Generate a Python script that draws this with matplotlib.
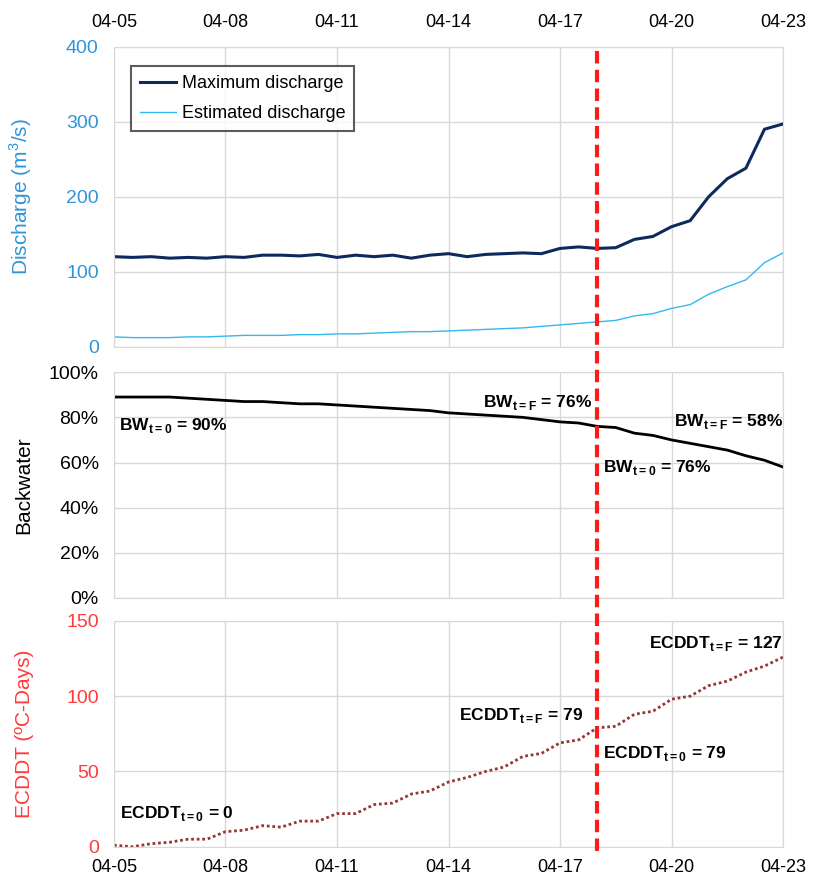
import numpy as np
import pandas as pd
import matplotlib
matplotlib.use('Agg')
import matplotlib.pyplot as plt
import matplotlib.dates as mdates
from matplotlib.lines import Line2D
from matplotlib.transforms import blended_transform_factory

plt.rcParams['font.family'] = ['Liberation Sans', 'DejaVu Sans']
plt.rcParams['mathtext.fontset'] = 'custom'
plt.rcParams['mathtext.rm'] = 'Liberation Sans'
plt.rcParams['mathtext.bf'] = 'Liberation Sans:bold'

# half-daily readings, 04-05 .. 04-23
dates = pd.date_range('2019-04-05', '2019-04-23', freq='12h')

max_discharge = [120, 119, 120, 118, 119, 118, 120, 119, 122, 122, 121, 123, 119,
                 122, 120, 122, 118, 122, 124, 120, 123, 124, 125, 124, 131, 133,
                 131, 132, 143, 147, 160, 168, 200, 224, 238, 290, 297]
est_discharge = [13, 12, 12, 12, 13, 13, 14, 15, 15, 15, 16, 16, 17, 17, 18, 19,
                 20, 20, 21, 22, 23, 24, 25, 27, 29, 31, 33, 35, 41, 44, 51, 56,
                 70, 80, 89, 112, 125]
backwater = [89, 89, 89, 89, 88.5, 88, 87.5, 87, 87, 86.5, 86, 86, 85.5, 85, 84.5,
             84, 83.5, 83, 82, 81.5, 81, 80.5, 80, 79, 78, 77.5, 76, 75.5, 73, 72,
             70, 68.5, 67, 65.5, 63, 61, 58]
ecddt = [1, 0, 2, 3, 5, 5, 10, 11, 14, 13, 17, 17, 22, 22, 28, 29, 35, 37, 43, 46,
         50, 53, 60, 62, 69, 71, 79, 80, 88, 90, 98, 100, 107, 110, 116, 120, 126]

cutoff = pd.Timestamp('2019-04-18')

blue = '#2E95D8'
navy = '#0E2A5C'
red = '#FF3B3B'
grid_c = '#D9D9D9'

fig = plt.figure(figsize=(8.14, 8.82), dpi=100)
left, width = 0.140, 0.822
ax1 = fig.add_axes([left, 0.607, width, 0.340])
ax2 = fig.add_axes([left, 0.322, width, 0.256])
ax3 = fig.add_axes([left, 0.040, width, 0.256])

for ax in (ax1, ax2, ax3):
    ax.set_xlim(dates[0], dates[-1])
    ax.xaxis.set_major_locator(mdates.DayLocator(interval=3))
    ax.xaxis.set_major_formatter(mdates.DateFormatter('%m-%d'))
    ax.grid(True, color=grid_c, lw=1)
    ax.set_axisbelow(True)
    for s in ax.spines.values():
        s.set_color(grid_c)
    ax.tick_params(length=0)
    ax.tick_params(axis='x', labelsize=13)
    ax.tick_params(axis='y', labelsize=14, pad=11)

# top panel
ax1.plot(dates, max_discharge, color=navy, lw=2.2, label='Maximum discharge')
ax1.plot(dates, est_discharge, color='#33B8F0', lw=1, label='Estimated discharge')
ax1.set_ylim(0, 400)
ax1.set_yticks([0, 100, 200, 300, 400])
ax1.xaxis.tick_top()
ax1.tick_params(axis='x', pad=11)
ax1.tick_params(axis='y', labelcolor=blue)
ax1.set_ylabel('Discharge (m$^3$/s)', color=blue, fontsize=15)
ax1.yaxis.set_label_coords(-0.12, 0.5)
leg = ax1.legend(loc='upper left', bbox_to_anchor=(0.012, 0.965), fontsize=13,
                 frameon=True, fancybox=False, edgecolor='#333333',
                 handlelength=2.0, handletextpad=0.3, borderpad=0.5, labelspacing=0.7)
leg.get_frame().set_linewidth(1.5)

# middle panel
ax2.plot(dates, backwater, color='black', lw=2)
ax2.set_ylim(0, 100)
ax2.set_yticks(range(0, 101, 20))
ax2.set_yticklabels([f'{v}%' for v in range(0, 101, 20)])
ax2.tick_params(axis='x', labelbottom=False)
ax2.set_ylabel('Backwater', fontsize=15)
ax2.yaxis.set_label_coords(-0.12, 0.5)

# bottom panel
ax3.plot(dates, ecddt, color='#953735', lw=2, ls=(0, (1, 1)))
ax3.set_ylim(0, 150)
ax3.set_yticks([0, 50, 100, 150])
ax3.tick_params(axis='x', pad=9)
ax3.tick_params(axis='y', labelcolor=red)
ax3.set_ylabel('ECDDT (ºC-Days)', color=red, fontsize=15)
ax3.yaxis.set_label_coords(-0.12, 0.5)

# annotations
kw = dict(fontsize=12.5, fontweight='bold')
d = pd.Timedelta
ax2.text(dates[0] + d(hours=3), 76.5, r'BW$_\mathbf{t=0}$ = 90%', va='center', ha='left', **kw)
ax2.text(cutoff - d(hours=3), 86.5, r'BW$_\mathbf{t=F}$ = 76%', va='center', ha='right', **kw)
ax2.text(dates[-1], 78, r'BW$_\mathbf{t=F}$ = 58%', va='center', ha='right', **kw)
ax2.text(cutoff + d(hours=4), 58, r'BW$_\mathbf{t=0}$ = 76%', va='center', ha='left', **kw)
ax3.text(dates[0] + d(hours=4), 22, r'ECDDT$_\mathbf{t=0}$ = 0', va='center', ha='left', **kw)
ax3.text(cutoff - d(hours=9), 87, r'ECDDT$_\mathbf{t=F}$ = 79', va='center', ha='right', **kw)
ax3.text(cutoff + d(hours=4), 62, r'ECDDT$_\mathbf{t=0}$ = 79', va='center', ha='left', **kw)
ax3.text(dates[-1], 135, r'ECDDT$_\mathbf{t=F}$ = 127', va='center', ha='right', **kw)

# red dashed cutoff line through all panels
tr = blended_transform_factory(ax3.transData, fig.transFigure)
xc = mdates.date2num(cutoff)
fig.add_artist(Line2D([xc, xc], [0.035, 0.947], transform=tr, color='#FF1A1A',
                      lw=3, ls=(0, (3, 1.5))))

fig.savefig('out.png', dpi=100)
